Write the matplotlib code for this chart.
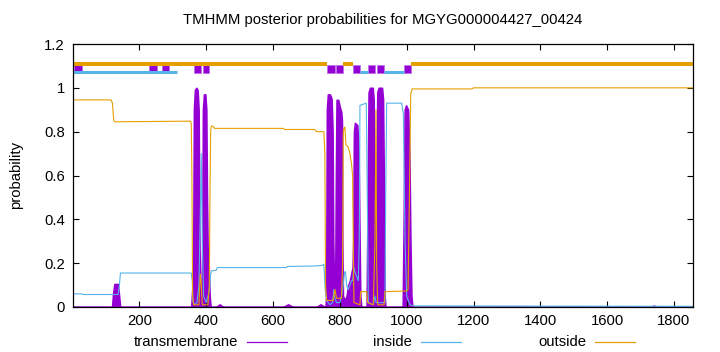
import matplotlib
matplotlib.use("Agg")
import matplotlib.pyplot as plt
from matplotlib.lines import Line2D
from matplotlib.patches import Rectangle

plt.rcParams['font.family'] = ['Liberation Sans', 'DejaVu Sans']

seq_len = 1857

# posterior probability curves, (residue, probability) breakpoints
tm_x = [1, 118, 121, 125, 135, 139, 142,
        355, 358, 361, 363, 366, 370, 374, 377, 379, 381, 384, 386, 388, 390, 393, 397, 400, 402, 404, 407, 410, 413,
        430, 440, 450, 630, 645, 660, 730, 742, 755,
        757, 759, 761, 764, 770, 775, 778, 780, 783, 786, 788, 790, 795, 800, 804, 806, 807, 809, 815, 820, 825,
        830, 835, 838, 840, 842, 845, 852, 856, 858, 861, 864,
        880, 883, 886, 890, 898, 901, 903, 905, 907, 909, 912, 916, 926, 929, 932, 934, 936,
        988, 991, 994, 998, 1004, 1008, 1011, 1014, 1017, 1730, 1740, 1750, 1857]
tm_y = [0, 0, 0.06, 0.105, 0.105, 0.05, 0,
        0, 0.08, 0.25, 0.9, 0.99, 1.0, 0.99, 0.9, 0.4, 0.08, 0.03, 0.05, 0.3, 0.9, 0.97, 0.97, 0.9, 0.5, 0.26, 0.2, 0.05, 0,
        0, 0.012, 0, 0, 0.012, 0, 0, 0.012, 0,
        0, 0.05, 0.9, 0.97, 0.97, 0.95, 0.8, 0.3, 0.05, 0.1, 0.6, 0.945, 0.945, 0.91, 0.89, 0.85, 0.3, 0.05, 0.03, 0.05, 0.1,
        0.12, 0.16, 0.18, 0.3, 0.8, 0.84, 0.83, 0.7, 0.4, 0.05, 0,
        0, 0.5, 0.98, 1.0, 1.0, 0.95, 0.5, 0.05, 0.03, 0.5, 0.98, 1.0, 1.0, 0.95, 0.5, 0.05, 0,
        0, 0.4, 0.9, 0.92, 0.9, 0.7, 0.3, 0.05, 0, 0, 0.006, 0, 0]

inside_x = [1, 28, 30, 136, 140, 143, 355, 358, 360, 363, 372, 378, 383, 385, 388, 392, 400, 405, 410, 413, 416,
            430, 433, 640, 643, 720, 748, 752, 756, 760, 770, 778, 782, 785, 790, 800, 806, 810, 814, 817, 820,
            825, 830, 835, 838, 842, 845, 850, 855, 858, 860, 879, 882, 885, 900, 905, 908, 935, 937, 940, 985,
            990, 995, 1000, 1010, 1020, 1857]
inside_y = [0.06, 0.06, 0.057, 0.057, 0.1, 0.155, 0.155, 0.12, 0.03, 0.01, 0.02, 0.1, 0.5, 0.7, 0.3, 0.05, 0.02,
            0.05, 0.08, 0.15, 0.165, 0.168, 0.18, 0.18, 0.185, 0.187, 0.19, 0.195, 0.08, 0.03, 0.01, 0.02, 0.08,
            0.04, 0.02, 0.02, 0.06, 0.1, 0.16, 0.16, 0.1, 0.08, 0.1, 0.12, 0.12, 0.18, 0.16, 0.14, 0.12, 0.3, 0.92,
            0.93, 0.5, 0.02, 0.01, 0.05, 0.02, 0.02, 0.5, 0.93, 0.93, 0.88, 0.3, 0.05, 0.01, 0.005, 0.003]

outside_x = [1, 115, 119, 123, 127, 352, 355, 357, 359, 362, 378, 382, 385, 388, 405, 409, 411, 413, 415, 420,
             425, 630, 635, 725, 730, 752, 755, 757, 760, 780, 785, 790, 805, 808, 810, 813, 815, 818, 825, 830,
             835, 838, 840, 842, 860, 862, 880, 883, 900, 905, 908, 910, 913, 932, 935, 1000, 1004, 1008, 1012,
             1016, 1195, 1200, 1857]
outside_y = [0.945, 0.945, 0.93, 0.85, 0.845, 0.848, 0.84, 0.6, 0.05, 0.01, 0.01, 0.15, 0.1, 0.01, 0.01, 0.1, 0.5,
             0.8, 0.825, 0.825, 0.815, 0.815, 0.81, 0.81, 0.8, 0.8, 0.7, 0.1, 0.03, 0.03, 0.08, 0.04, 0.04, 0.2,
             0.8, 0.82, 0.82, 0.74, 0.73, 0.7, 0.65, 0.6, 0.3, 0.02, 0.01, 0.07, 0.07, 0.02, 0.01, 0.3, 0.9, 0.2,
             0.01, 0.01, 0.07, 0.073, 0.08, 0.5, 0.97, 0.995, 0.995, 1.0, 1.0]

# predicted topology strips along the top
outside_top = [(1, 760), (810, 840), (1012, 1857)]
inside_top = [(1, 312), (860, 884), (932, 992)]
tm_top = [(5, 27), (230, 251), (266, 287), (363, 385), (390, 408), (760, 785), (788, 810),
          (840, 860), (884, 905), (910, 932), (992, 1012)]

c_tm = '#9400d3'
c_in = '#56b4e9'
c_out = '#e69f00'
fs = 10.7

fig = plt.figure(figsize=(7.2, 3.52), dpi=100)
ax = fig.add_axes([73 / 720, 45 / 352, 620 / 720, 263 / 352])

ax.fill_between(tm_x, 0, tm_y, color=c_tm, lw=1.2)
ax.plot(inside_x, inside_y, color=c_in, lw=0.8)
ax.plot(outside_x, outside_y, color=c_out, lw=0.8)

for a, b in outside_top:
    ax.plot([a, b], [1.11, 1.11], color=c_out, lw=2.9, solid_capstyle='butt')
for a, b in inside_top:
    ax.plot([a, b], [1.071, 1.071], color=c_in, lw=2.2, solid_capstyle='butt')
for a, b in tm_top:
    ax.add_patch(Rectangle((a, 1.066), b - a, 0.04, facecolor=c_tm, edgecolor='#c070e8', lw=0.6))

ax.set_xlim(1, seq_len)
ax.set_ylim(0, 1.2)
ax.set_xticks([200, 400, 600, 800, 1000, 1200, 1400, 1600, 1800])
ax.set_yticks([0, 0.2, 0.4, 0.6, 0.8, 1.0, 1.2])
ax.set_yticklabels(['0', '0.2', '0.4', '0.6', '0.8', '1', '1.2'])
ax.tick_params(direction='in', length=4, width=0.8, top=True, right=True, labelsize=fs)
ax.tick_params(axis='y', pad=6)
ax.tick_params(axis='x', pad=5)
for s in ax.spines.values():
    s.set_linewidth(0.9)

fig.text(383 / 720, 1 - 20 / 352, 'TMHMM posterior probabilities for MGYG000004427_00424',
         ha='center', va='center', fontsize=fs)
fig.text(16 / 720, 1 - 175 / 352, 'probability', rotation=90, ha='center', va='center', fontsize=fs)

# legend row under the axis, gnuplot style: label then sample line
legend_y = 1 - 342 / 352
for label, color, xr in [('transmembrane', c_tm, 238), ('inside', c_in, 412), ('outside', c_out, 586)]:
    fig.text(xr / 720, legend_y, label, ha='right', va='center', fontsize=fs)
    fig.add_artist(Line2D([(xr + 9) / 720, (xr + 49) / 720], [legend_y, legend_y],
                          color=color, lw=0.9, transform=fig.transFigure))

fig.savefig('out.png', dpi=100)
